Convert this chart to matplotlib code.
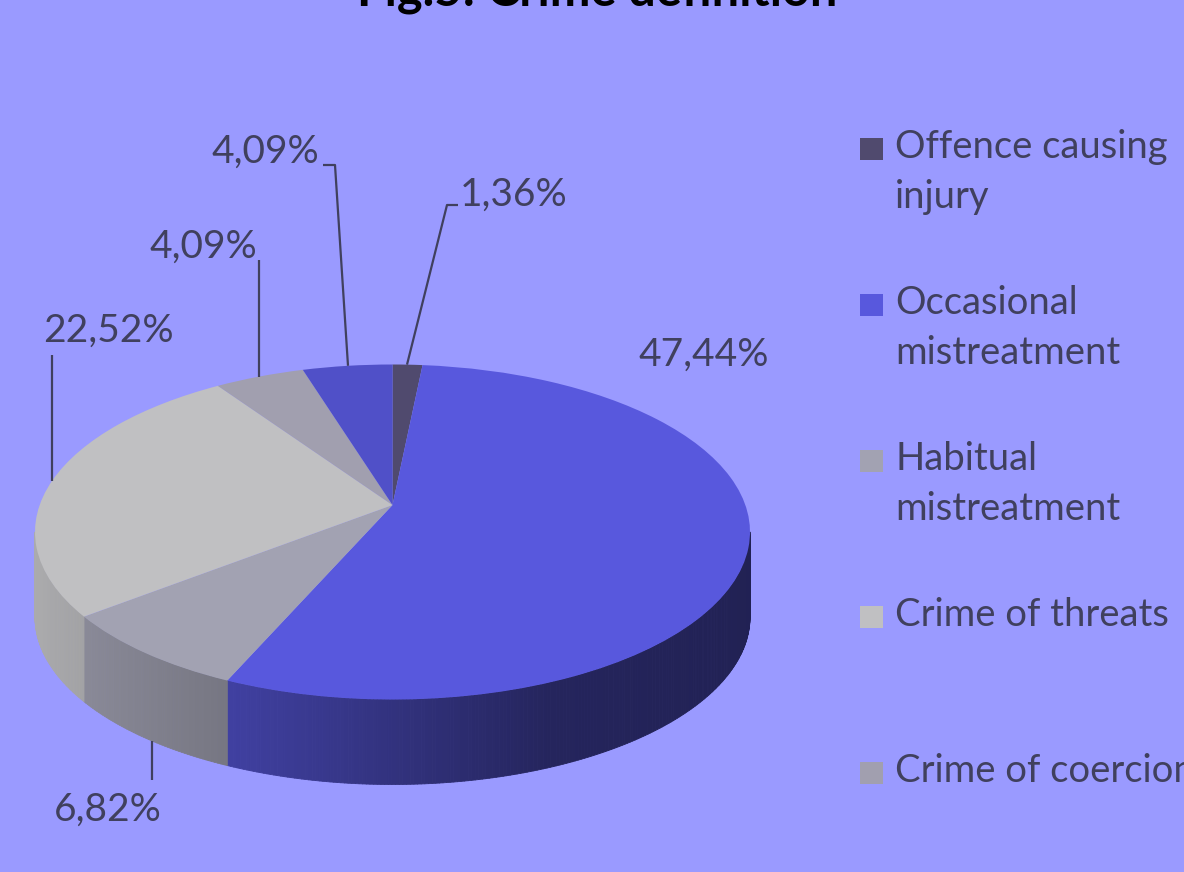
import numpy as np
import matplotlib
matplotlib.use("Agg")
import matplotlib.pyplot as plt
from matplotlib.collections import PolyCollection
from matplotlib.patches import Rectangle
from matplotlib.colors import to_rgb
from matplotlib.transforms import Transform

# ---- data ----
categories = ["Offence causing\ninjury", "Occasional\nmistreatment", "Habitual\nmistreatment",
              "Crime of threats", "Crime of coercion", "Other"]
values = [1.36, 47.44, 6.82, 22.52, 4.09, 4.09]
value_labels = ["1,36%", "47,44%", "6,82%", "22,52%", "4,09%", "4,09%"]
colors = ["#504a6e", "#5858dd", "#a2a2b2", "#c0c0c2", "#a19faf", "#5050c8"]
title = "Fig.5: Crime definition"

# ---- layout / style ----
BG = "#9a9aff"
TXT = "#40405e"
FONT = "Lato"
W, H = 1184, 872
CX, CY, RX, RY = 392.5, 532.0, 357.5, 167.5
DEPTH = 85.0
PERSP = 0.161          # perspective tilt of the 3D pie
shade_x = [-1.0, -0.46, 0.44, 1.0]
shade_f = [0.89, 0.73, 0.42, 0.38]

label_xy = [(514, 195), (704, 355), (108, 810), (108, 331), (203, 247), (265, 152)]
leaders = [
    [(458, 205), (447, 205), (407, "top")],
    None,
    [(152, 780), (152, "bottom")],
    [(52, 355), (52, "top")],
    [(259, 260), (259, "top")],
    [(323, 165), (335, 165), (348, "top")],
]


class Perspective(Transform):
    """Projective map of the unit disc giving the 3D-pie view."""
    input_dims = output_dims = 2
    is_separable = False

    def __init__(self, k):
        super().__init__()
        self.k = k
        self.c = np.sqrt(1 - k * k)

    def transform_non_affine(self, xy):
        xy = np.asarray(xy, float).reshape(-1, 2)
        u, v = xy[:, 0], xy[:, 1]
        den = 1 + self.k * v
        return np.column_stack([self.c * u / den, (v + self.k) / den])


def p2d(px, py):
    return (px - CX) / RX, (CY - py) / RY


def rim_py(px, where):
    u = (px - CX) / RX
    r = np.sqrt(max(0.0, 1 - u * u)) * RY
    return CY - r if where == "top" else CY + r + DEPTH


fig = plt.figure(figsize=(W / 100, H / 100), dpi=100, facecolor=BG)
ax = fig.add_axes([0, 0, 1, 1])
ax.set_facecolor(BG)

persp = Perspective(PERSP)
wedges, _ = ax.pie(values, colors=colors, startangle=90, counterclock=False,
                   wedgeprops=dict(linewidth=0))
for w in wedges:
    w.set_transform(persp + ax.transData)
    w.set_zorder(2)
ax.set_aspect("auto")
ax.set_xlim(-CX / RX, (W - CX) / RX)
ax.set_ylim((CY - H) / RY, CY / RY)
ax.axis("off")

# ---- side wall (front part of the rim) ----
d = DEPTH / RY
edge = np.degrees(np.arcsin(PERSP))
polys, fcs = [], []
for w, c in zip(wedges, colors):
    t1, t2 = w.theta1, w.theta2
    base = np.array(to_rgb(c))
    for off in (-360, 0, 360):
        lo, hi = max(t1, 180 + edge + off), min(t2, 360 - edge + off)
        if hi <= lo:
            continue
        n = max(2, int(np.ceil((hi - lo) / 0.5)) + 1)
        ts = np.radians(np.linspace(lo, hi, n))
        rim = persp.transform(np.column_stack([np.cos(ts), np.sin(ts)]))
        for (xa, ya), (xb, yb) in zip(rim[:-1], rim[1:]):
            polys.append([(xa, ya), (xb, yb), (xb, yb - d), (xa, ya - d)])
            f = np.interp((xa + xb) / 2, shade_x, shade_f)
            fcs.append(np.clip(base * f, 0, 1))
pc = PolyCollection(polys, facecolors=fcs, edgecolors=fcs, linewidths=0.6, zorder=1)
ax.add_collection(pc)

# ---- data labels and leader lines ----
for lab, (lx, ly), ld in zip(value_labels, label_xy, leaders):
    ax.text(*p2d(lx, ly), lab, ha="center", va="center", fontsize=28,
            family=FONT, color=TXT, zorder=5)
    if ld:
        pts = []
        for p in ld:
            if isinstance(p[1], str):
                pts.append(p2d(p[0], rim_py(p[0], p[1])))
            else:
                pts.append(p2d(*p))
        xs, ys = zip(*pts)
        ax.plot(xs, ys, color=TXT, lw=1.6, zorder=4, solid_capstyle="butt")

# ---- legend (entries that fall inside the canvas) ----
for i, (name, col) in enumerate(zip(categories, colors)):
    yb = 158 + i * 156
    if yb > H:
        break
    x0, y0 = p2d(860, yb + 2)
    ax.add_patch(Rectangle((x0, y0), 23 / RX, 22 / RY, facecolor=col,
                           edgecolor="none", zorder=5))
    for j, line in enumerate(name.split("\n")):
        ax.text(*p2d(895, yb + j * 50), line, ha="left", va="baseline",
                fontsize=27.5, family=FONT, color=TXT, zorder=5)

# ---- title (cut at the top edge as in the source) ----
fig.text(597 / W, 1 - 6 / H, title, ha="center", va="baseline",
         fontsize=35, fontweight="bold", family=FONT, color="black")

fig.savefig("out.png", dpi=100, facecolor=BG)
